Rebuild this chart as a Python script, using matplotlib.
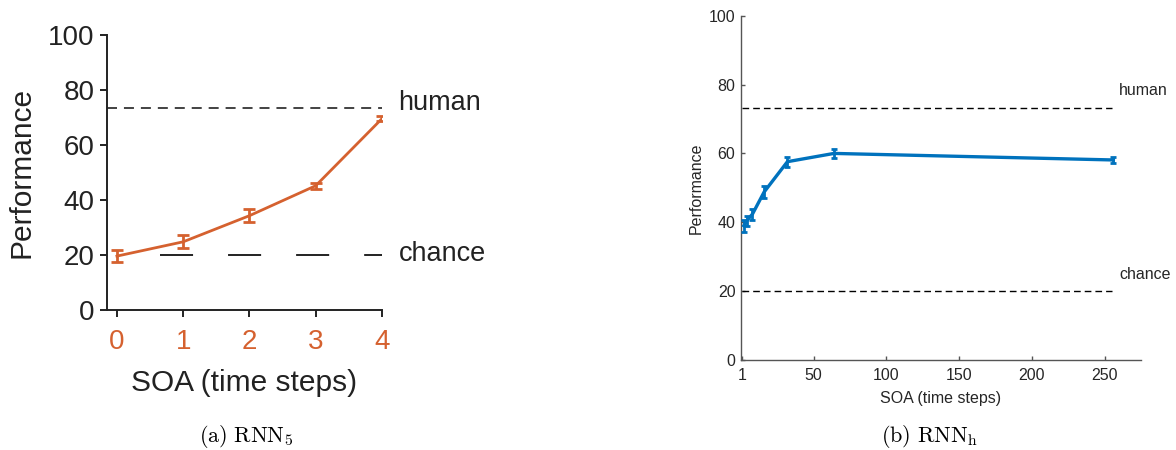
import matplotlib
matplotlib.use("Agg")
import matplotlib.pyplot as plt
import numpy as np

# ---- data ----
soa_a = [0, 1, 2, 3, 4]
perf_a = [19.6, 24.8, 34.3, 45.2, 69.6]
err_a = [2.3, 2.3, 2.3, 1.1, 0.8]

soa_b = [2, 4, 8, 16, 32, 64, 256]
perf_b = [39.0, 40.4, 42.4, 48.8, 57.6, 60.0, 58.1]
err_b = [1.7, 1.5, 1.6, 1.8, 1.5, 1.4, 1.0]

human_level = 73.3
chance_level = 20.0

yticks = [0, 20, 40, 60, 80, 100]
xticks_b = [1, 50, 100, 150, 200, 250]

orange = "#D5612F"
blue = "#0072BD"

plt.rcParams["font.family"] = ["Liberation Sans", "DejaVu Sans"]
plt.rcParams["mathtext.fontset"] = "cm"
plt.rcParams["lines.scale_dashes"] = False

fig = plt.figure(figsize=(11.76, 4.5), dpi=100)
W, H = 1176, 450

def px_axes(l, t, r, b):
    return fig.add_axes([l / W, 1 - b / H, (r - l) / W, (b - t) / H])

# ---- panel (a) ----
ax1 = px_axes(107, 35, 382, 310)
ax1.errorbar(soa_a, perf_a, yerr=err_a, color=orange, lw=2.0,
             elinewidth=2.0, capsize=4, capthick=2.0, zorder=3)
ax1.plot([-0.15, 4.0], [human_level] * 2, color="#222222", lw=1.2,
         dashes=(7.2, 5.0), dash_capstyle="butt")
ax1.plot([0.65, 4.0], [chance_level] * 2, color="#222222", lw=1.4,
         dashes=(23.8, 25.2), dash_capstyle="butt")
ax1.set_xlim(-0.15, 4.0)
ax1.set_ylim(0, 100)
ax1.set_yticks(yticks)
ax1.set_xticks(soa_a)
for s in ("top", "right"):
    ax1.spines[s].set_visible(False)
for s in ("left", "bottom"):
    ax1.spines[s].set_linewidth(1.4)
    ax1.spines[s].set_color("#222222")
ax1.tick_params(axis="y", direction="out", length=5, width=1.4, pad=4,
                labelsize=20, colors="#222222")
ax1.tick_params(axis="x", direction="out", length=5, width=1.4, pad=9,
                labelsize=20, colors="#222222", labelcolor=orange)
ax1.set_ylabel("Performance", fontsize=21.5, labelpad=9, color="#222222")
ax1.set_xlabel("SOA (time steps)", fontsize=21.5, labelpad=10, color="#222222")
ax1.text(4.25, 75.3, "human", fontsize=19.5, va="center", ha="left",
         color="#222222", clip_on=False)
ax1.text(4.25, 20.4, "chance", fontsize=19.5, va="center", ha="left",
         color="#222222", clip_on=False)

# ---- panel (b) ----
ax2 = px_axes(741, 15.7, 1141, 360)
ax2.errorbar(soa_b, perf_b, yerr=err_b, color=blue, lw=2.4,
             elinewidth=2.0, capsize=2.2, capthick=2.0, zorder=3)
ax2.plot([1, 255], [human_level] * 2, color="black", lw=1.0,
         dashes=(4.8, 2.9), dash_capstyle="butt")
ax2.plot([1, 255], [chance_level] * 2, color="black", lw=1.0,
         dashes=(4.8, 2.9), dash_capstyle="butt")
ax2.set_xlim(0.1, 275)
ax2.set_ylim(0, 100)
ax2.set_yticks(yticks)
ax2.set_xticks(xticks_b)
for s in ("top", "right"):
    ax2.spines[s].set_visible(False)
for s in ("left", "bottom"):
    ax2.spines[s].set_linewidth(1.0)
    ax2.spines[s].set_color("#555555")
ax2.tick_params(direction="in", length=3, width=1.0, labelsize=11.5,
                colors="#555555", labelcolor="#262626")
ax2.tick_params(axis="y", pad=4)
ax2.tick_params(axis="x", pad=6)
ax2.set_ylabel("Performance", fontsize=11.5, labelpad=4, color="#262626")
ax2.set_xlabel("SOA (time steps)", fontsize=11.5, labelpad=5.5, color="#262626")
ax2.text(260, 78.2, "human", fontsize=11.5, va="center", ha="left",
         color="#262626", clip_on=False)
ax2.text(260, 24.7, "chance", fontsize=11.5, va="center", ha="left",
         color="#262626", clip_on=False)

# ---- captions ----
fig.text(246 / W, 1 - 437 / H, r"$\mathrm{(a)\ RNN_5}$", fontsize=16,
         ha="center", va="center")
fig.text(929.5 / W, 1 - 437 / H, r"$\mathrm{(b)\ RNN_h}$", fontsize=16,
         ha="center", va="center")

fig.savefig("out.png", dpi=100)
